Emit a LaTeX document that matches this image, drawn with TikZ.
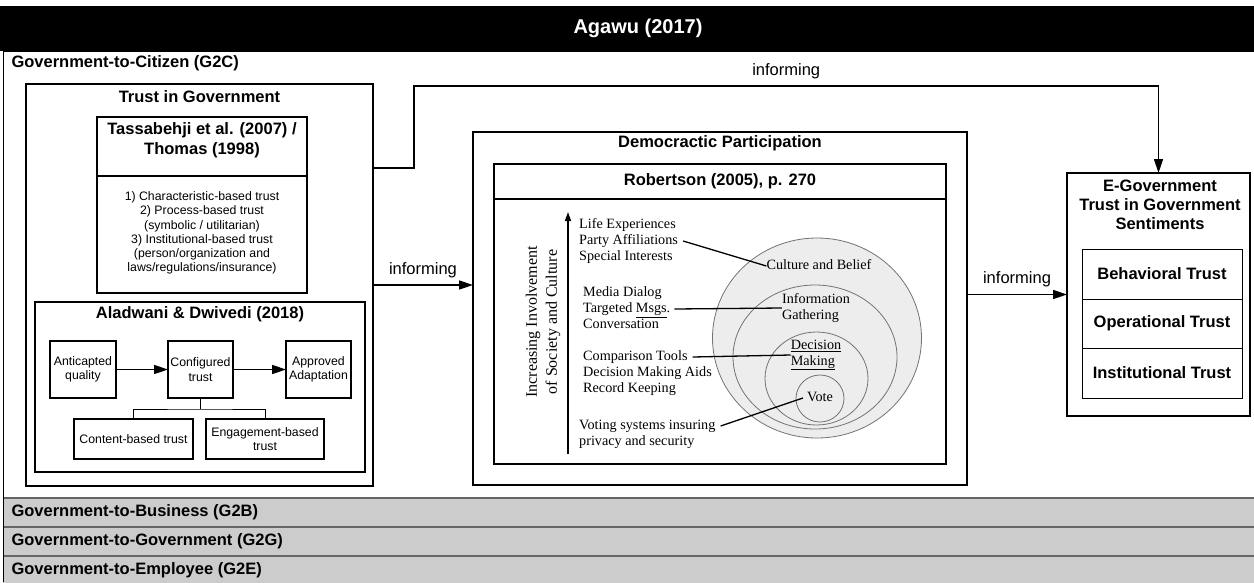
\documentclass[tikz,border=0pt]{standalone}
\usepackage{fontspec}
\setmainfont{Liberation Sans}
\newfontfamily\timesfont{Liberation Serif}
\usetikzlibrary{calc,shapes,arrows.meta}

\begin{document}
\begin{tikzpicture}[x=1pt,y=-1pt]

 \tikzset{
    box/.style={draw, line width=1.8pt, inner sep=0pt, outer sep=0pt},
    thinbox/.style={draw, line width=1pt, inner sep=0pt, outer sep=0pt},
    head/.style={font=\fontsize{16.5}{20}\selectfont\bfseries, align=center},
    txt/.style={font=\fontsize{12.3}{14.3}\selectfont, align=center},
    lbl/.style={font=\fontsize{16.5}{20}\selectfont},
    band/.style={font=\fontsize{16.5}{20}\selectfont\bfseries, anchor=west},
    tms/.style={font=\timesfont\fontsize{14.2}{16}\selectfont, inner sep=0pt,
      anchor=west, text height=10pt, text depth=3pt},
    tmsb/.style={font=\timesfont\fontsize{14.2}{16}\selectfont, inner sep=0pt,
      align=left},
    arr/.style={-{Triangle[length=14pt,width=9pt]}, line width=1.6pt},
    lead/.style={line width=1.3pt},
    ring/.style={fill=black!7, draw=black!55, line width=0.8pt}
  }

\useasboundingbox (0,0) rectangle (1254,582);

% header bar
\fill (0,6) rectangle (1254,51);
\node[font=\fontsize{20}{24}\selectfont\bfseries, text=white] (agawu) at (638,28) {Agawu (2017)};

% G2C and the other bands
\node[band] (g2c) at (8,63) {Government-to-Citizen (G2C)};
\foreach \y/\t/\n in {498/Business (G2B)/g2b, 527/Government (G2G)/g2g, 556/Employee (G2E)/g2e} {
  \fill[black!20] (3,\y) rectangle (1254,\y+29);
  \draw[black!60, line width=1.5pt] (3,\y) -- (1254,\y);
  \node[band] (\n) at (8,\y+14) {Government-to-\t};
}
\draw[line width=1pt] (1254,51) -- (3,51) -- (3,582);

% Trust in Government
\node[box, line width=1.4pt, minimum width=347, minimum height=402] (trust) at (199.5,285) {};
\node[head] (trusthd) at (199.5,97) {Trust in Government};

\node[box, line width=1.2pt, minimum width=210, minimum height=176] (tass) at (202,205) {};
\draw[line width=1.2pt] ([yshift=-59pt]tass.north west) -- ([yshift=-59pt]tass.north east);
\node[head] (tasshd) at (202,140) {Tassabehji et al. (2007) /\\Thomas (1998)};
\node[txt] (tasstx) at (202,233) {1) Characteristic-based trust\\2) Process-based trust\\(symbolic / utilitarian)\\3) Institutional-based trust\\(person/organization and\\laws/regulations/insurance)};

\node[box, line width=2.2pt, minimum width=330, minimum height=170] (alad) at (200,387) {};
\node[head] (aladhd) at (200,314) {Aladwani \& Dwivedi (2018)};
\node[box, txt, minimum width=66, minimum height=57] (antq) at (83,369.5) {Anticapted\\quality};
\node[box, txt, minimum width=65, minimum height=57] (conf) at (200.5,369.5) {Configured\\trust};
\node[box, txt, minimum width=65, minimum height=57] (appr) at (318.5,369.5) {Approved\\Adaptation};
\node[box, txt, minimum width=119, minimum height=40] (cont) at (133.5,439) {Content-based trust};
\node[box, txt, minimum width=118, minimum height=40] (enga) at (265,439) {Engagement-based\\trust};
\draw[arr] (antq) -- (conf);
\draw[arr] (conf) -- (appr);
\draw[line width=1pt] (conf.south) -- ++(0,11) coordinate (split);
\draw[line width=1pt] (cont.north) |- (split) -| (enga.north);

% Democractic Participation
\node[box, minimum width=494, minimum height=353] (demo) at (720,308.5) {};
\node[head] (demohd) at (720,143) {Democractic Participation};
\node[box, minimum width=452, minimum height=300] (robe) at (720,314) {};
\draw[line width=1.8pt] ([yshift=-35pt]robe.north west) -- ([yshift=-35pt]robe.north east);
\node[head] (robehd) at (720,181) {Robertson (2005), p. 270};

\draw[ring] (817,338) ellipse [x radius=104.5, y radius=100];
\draw[ring] (815,357) ellipse [x radius=82, y radius=72];
\draw[ring] (816.5,378.5) ellipse [x radius=51.5, y radius=46.5];
\draw[ring] (820,398.5) ellipse [x radius=24, y radius=23.5];
\node[tms, anchor=center] (culture) at (819,266) {Culture and Belief};
\node[tmsb] (info) at (816,308) {Information\\Gathering};
\node[tmsb] (decis) at (816,355) {\underline{Decision}\\\underline{Making}};
\node[tms, anchor=center] (vote) at (820,398) {Vote};

\coordinate (axbot) at (568,454);
\coordinate (axtop) at (568,212);
\draw[-{Triangle[length=9pt,width=6pt]}, line width=1.5pt] (axbot) -- (axtop);
\node[font=\timesfont\fontsize{16}{20}\selectfont, rotate=90, align=center] (incr) at (543,322) {Increasing Involvement\\of Society and Culture};

\node[tms] (life) at (579,225) {Life Experiences};
\node[tms] (party) at (579,241) {Party Affiliations};
\node[tms] (spec) at (579,257) {Special Interests};
\node[tms] (media) at (583,293) {Media Dialog};
\node[tms] (targ) at (583,309) {Targeted \underline{Msgs}.};
\node[tms] (conv) at (583,325) {Conversation};
\node[tms] (comp) at (583,357) {Comparison Tools};
\node[tms] (dmai) at (583,373) {Decision Making Aids};
\node[tms] (reco) at (583,389) {Record Keeping};
\node[tms] (vots) at (579,426) {Voting systems insuring};
\node[tms] (priv) at (579,442) {privacy and security};

\draw[lead] ([xshift=5pt]party.east) -- (culture.west);
\draw[lead] ([xshift=4pt]targ.east) -- (info.west);
\draw[lead] ([xshift=5pt]comp.east) -- (decis.west);
\draw[lead] ([xshift=5pt]vots.east) -- ([xshift=-4pt]vote.west);

% E-Government
\node[box, minimum width=183, minimum height=243] (egov) at (1158.5,294.5) {};
\node[head, font=\fontsize{16.5}{19}\selectfont\bfseries] (egovhd) at (1160,205) {E-Government\\Trust in Government\\Sentiments};
\node[thinbox, head, minimum width=160, minimum height=50] (behv) at (1162,274) {Behavioral Trust};
\node[thinbox, head, minimum width=160, minimum height=49] (oper) at (1162,323.5) {Operational Trust};
\node[thinbox, head, minimum width=160, minimum height=50] (inst) at (1162,373) {Institutional Trust};

% informing arrows
\draw[arr] (trust.east) -- (trust.east -| demo.west) node[lbl, midway, above=3pt] (inf2) {informing};
\draw[arr] (egov.west -| demo.east) -- (egov.west) node[lbl, midway, above=3pt] (inf3) {informing};
\coordinate (bend) at (414,86);
\draw[arr] ([yshift=-84pt]trust.north east) -| (bend) -| (egov.north) node[lbl, pos=0.25, above=3pt] (inf1) {informing};
\end{tikzpicture}
\end{document}
